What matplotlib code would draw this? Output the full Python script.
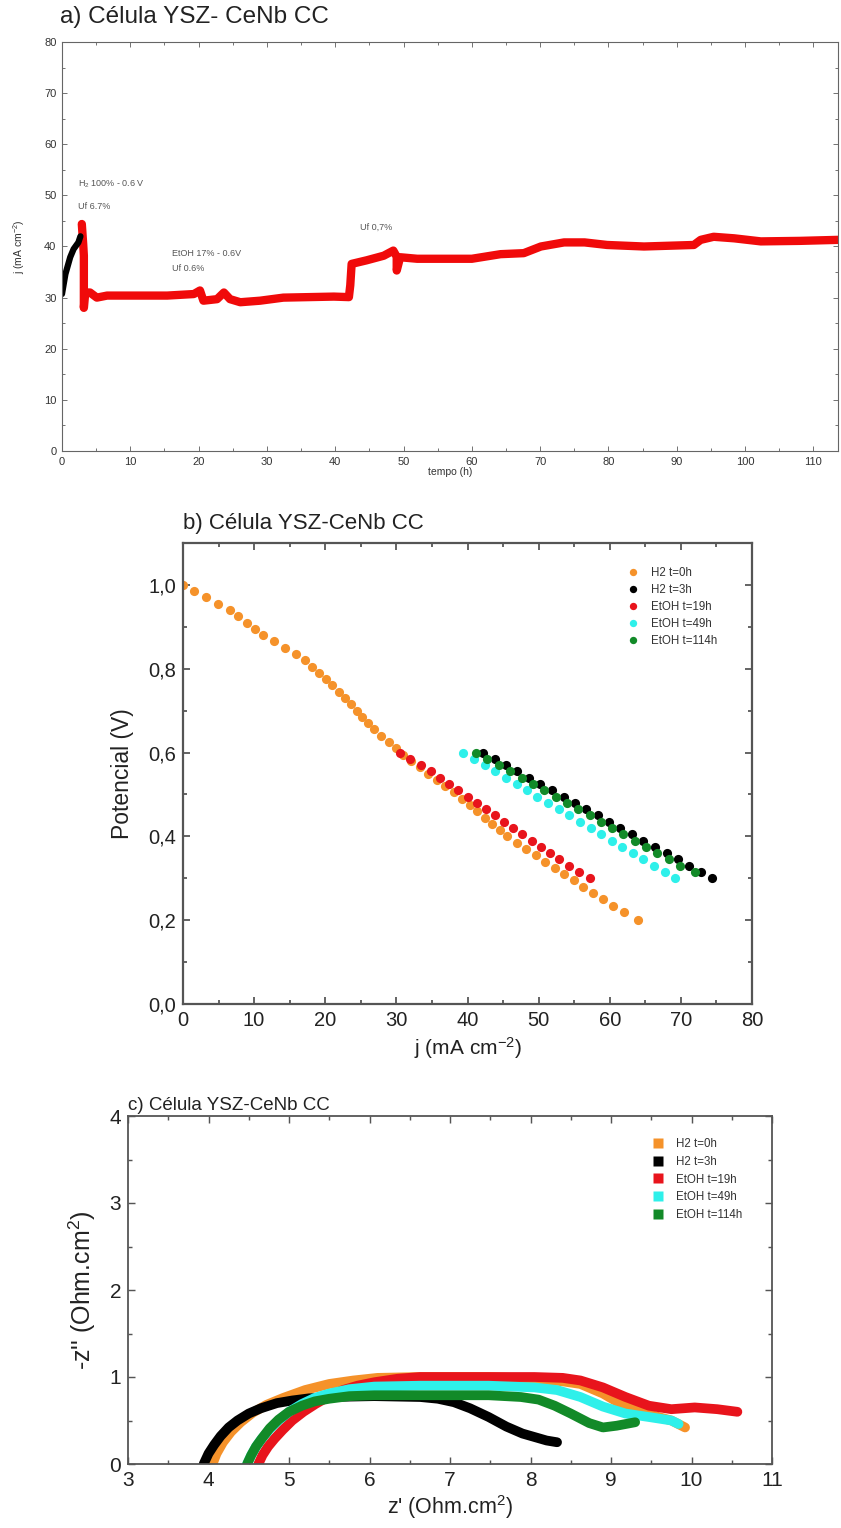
import matplotlib
matplotlib.use("Agg")
import matplotlib.pyplot as plt
from matplotlib.ticker import MultipleLocator, FuncFormatter

plt.rcParams['font.family'] = ['Liberation Sans', 'DejaVu Sans']
plt.rcParams['mathtext.fontset'] = 'custom'
plt.rcParams['mathtext.rm'] = 'Liberation Sans'
plt.rcParams['mathtext.it'] = 'Liberation Sans:italic'

# ---------------- a) chronoamperometry ----------------
t_h2 = [0.0, 0.5, 1.2, 1.7, 2.4, 2.7]
j_h2 = [30.7, 34.6, 37.9, 39.5, 40.8, 42.0]

t_etoh = [2.9, 3.1, 3.2, 3.2, 3.4, 4.1, 5.1, 6.6, 10.5, 15.4, 19.3, 20.2, 20.7, 22.7,
          23.7, 24.6, 26.1, 29.0, 32.4, 39.8, 42.0, 42.2, 42.4, 44.6, 47.1, 48.5,
          49.0, 49.0, 49.5, 52.0, 60.0, 64.2, 67.6, 70.1, 73.5, 76.5, 79.8, 85.2,
          92.5, 93.5, 95.4, 98.4, 102.3, 108.0, 113.6]
j_etoh = [44.4, 40.5, 38.2, 28.0, 31.0, 31.0, 30.0, 30.4, 30.4, 30.4, 30.7, 31.4, 29.4,
          29.7, 31.0, 29.7, 29.1, 29.4, 30.0, 30.2, 30.1, 32.4, 36.6, 37.3, 38.2,
          39.2, 38.0, 35.3, 37.9, 37.6, 37.6, 38.5, 38.7, 40.0, 40.8, 40.8, 40.3,
          40.0, 40.3, 41.3, 41.9, 41.6, 41.0, 41.1, 41.3]

# ---------------- b) polarization curves ----------------
v_h2_0 = [1.000, 0.985, 0.970, 0.955, 0.940, 0.925, 0.910, 0.895, 0.880, 0.865,
          0.850, 0.835, 0.820, 0.805, 0.790, 0.775, 0.760, 0.745, 0.730, 0.715,
          0.700, 0.685, 0.670, 0.655, 0.640, 0.625, 0.610, 0.595, 0.580, 0.565,
          0.550, 0.535, 0.520, 0.505, 0.490, 0.475, 0.460, 0.445, 0.430, 0.415,
          0.400, 0.385, 0.370, 0.355, 0.340, 0.325, 0.310, 0.295, 0.280, 0.265,
          0.250, 0.235, 0.220, 0.200]
j_h2_0 = [0.0, 1.6, 3.3, 4.9, 6.6, 7.8, 9.0, 10.1, 11.3, 12.8,
          14.4, 15.9, 17.2, 18.2, 19.1, 20.1, 21.0, 22.0, 22.8, 23.6,
          24.4, 25.2, 26.0, 26.9, 27.9, 28.9, 29.9, 30.9, 32.1, 33.3,
          34.5, 35.7, 36.9, 38.1, 39.2, 40.3, 41.3, 42.4, 43.4, 44.5,
          45.5, 46.9, 48.2, 49.6, 50.9, 52.3, 53.6, 55.0, 56.3, 57.6,
          59.0, 60.5, 62.0, 64.0]

v_sweep = [0.600, 0.585, 0.570, 0.555, 0.540, 0.525, 0.510, 0.495, 0.480, 0.465,
           0.450, 0.435, 0.420, 0.405, 0.390, 0.375, 0.360, 0.345, 0.330, 0.315,
           0.300]
j_h2_3 = [42.2, 43.8, 45.4, 47.0, 48.6, 50.2, 51.9, 53.5, 55.1, 56.7,
          58.3, 59.9, 61.5, 63.1, 64.7, 66.3, 68.0, 69.6, 71.2, 72.8, 74.4]
j_etoh_19 = [30.5, 31.9, 33.4, 34.8, 36.1, 37.4, 38.7, 40.0, 41.3, 42.6,
             43.9, 45.2, 46.4, 47.7, 49.0, 50.3, 51.6, 52.9, 54.3, 55.7, 57.2]
j_etoh_49 = [39.4, 40.9, 42.4, 43.9, 45.4, 46.9, 48.3, 49.8, 51.3, 52.8,
             54.3, 55.8, 57.3, 58.8, 60.3, 61.7, 63.2, 64.7, 66.2, 67.7, 69.2]
j_etoh_114 = [41.2, 42.8, 44.4, 46.0, 47.6, 49.2, 50.8, 52.4, 54.0, 55.6,
              57.2, 58.7, 60.3, 61.9, 63.5, 65.1, 66.7, 68.3, 69.9, 72.0]

# ---------------- c) impedance spectra ----------------
zr_h2_0 = [4.05, 4.10, 4.18, 4.28, 4.40, 4.55, 4.72, 4.93, 5.20, 5.50, 5.80, 6.10,
           6.63, 7.48, 8.05, 8.40, 8.62, 8.90, 9.18, 9.47, 9.75, 9.92]
zi_h2_0 = [0.00, 0.12, 0.25, 0.37, 0.48, 0.59, 0.68, 0.76, 0.85, 0.92, 0.96, 0.99,
           1.00, 1.00, 0.98, 0.95, 0.92, 0.81, 0.66, 0.57, 0.50, 0.42]
zr_h2_3 = [3.94, 4.00, 4.07, 4.15, 4.25, 4.36, 4.50, 4.65, 4.85, 5.04, 5.25, 5.50,
           6.06, 6.63, 6.85, 7.05, 7.25, 7.48, 7.70, 7.90, 8.05, 8.20, 8.33]
zi_h2_3 = [0.00, 0.12, 0.22, 0.32, 0.42, 0.50, 0.58, 0.64, 0.70, 0.73, 0.755, 0.77,
           0.78, 0.77, 0.75, 0.71, 0.64, 0.54, 0.43, 0.35, 0.31, 0.27, 0.25]
zr_etoh_19 = [4.62, 4.67, 4.74, 4.82, 4.92, 5.04, 5.18, 5.33, 5.50, 5.67, 5.85, 6.06,
              6.35, 6.63, 8.05, 8.40, 8.62, 8.90, 9.18, 9.47, 9.75, 10.04, 10.32, 10.57]
zi_etoh_19 = [0.00, 0.10, 0.20, 0.29, 0.39, 0.50, 0.60, 0.69, 0.78, 0.85, 0.90, 0.94,
              0.98, 1.00, 1.00, 0.99, 0.96, 0.88, 0.77, 0.67, 0.63, 0.65, 0.63, 0.60]
zr_etoh_49 = [4.48, 4.53, 4.59, 4.66, 4.76, 4.87, 5.00, 5.16, 5.32, 5.50, 5.75, 6.06,
              6.63, 7.48, 8.05, 8.33, 8.62, 8.90, 9.18, 9.47, 9.75, 9.84]
zi_etoh_49 = [0.00, 0.10, 0.20, 0.29, 0.40, 0.50, 0.60, 0.69, 0.76, 0.81, 0.86, 0.89,
              0.90, 0.90, 0.88, 0.85, 0.77, 0.66, 0.58, 0.54, 0.50, 0.46]
zr_etoh_114 = [4.48, 4.53, 4.59, 4.66, 4.76, 4.87, 5.00, 5.16, 5.32, 5.50, 5.75, 6.06,
               7.48, 7.88, 8.10, 8.30, 8.50, 8.73, 8.90, 9.07, 9.30]
zi_etoh_114 = [0.00, 0.10, 0.20, 0.29, 0.41, 0.51, 0.60, 0.67, 0.72, 0.75, 0.78, 0.79,
               0.79, 0.77, 0.74, 0.67, 0.58, 0.47, 0.42, 0.44, 0.48]

labels = ["H2 t=0h", "H2 t=3h", "EtOH t=19h", "EtOH t=49h", "EtOH t=114h"]
colors = ["#F5922A", "#000000", "#E8141C", "#2EF0EA", "#128A28"]

W, H = 841, 1528
fig = plt.figure(figsize=(W / 100, H / 100), dpi=100)


def box(l, t, r, b):
    return [l / W, 1 - b / H, (r - l) / W, (b - t) / H]


def style_axes(ax, spine_color, spine_w, tick_len):
    for s in ax.spines.values():
        s.set_color(spine_color)
        s.set_linewidth(spine_w)
    ax.tick_params(which='both', direction='in', top=True, right=True,
                   color=spine_color, width=spine_w * 0.8)
    ax.tick_params(which='major', length=tick_len)
    ax.tick_params(which='minor', length=tick_len * 0.55)


comma = FuncFormatter(lambda v, p: f"{v:.1f}".replace('.', ','))

# ---- panel a ----
axa = fig.add_axes(box(62, 42, 838, 451))
axa.plot(t_etoh, j_etoh, color="#F00A0A", lw=6, solid_capstyle='round',
         solid_joinstyle='round')
axa.plot(t_h2, j_h2, color="#000000", lw=4.5, solid_capstyle='round')
axa.set_xlim(0, 113.6)
axa.set_ylim(0, 80)
axa.xaxis.set_major_locator(MultipleLocator(10))
axa.xaxis.set_minor_locator(MultipleLocator(5))
axa.yaxis.set_major_locator(MultipleLocator(10))
axa.yaxis.set_minor_locator(MultipleLocator(5))
style_axes(axa, "#666666", 0.8, 3.5)
axa.tick_params(labelsize=8, labelcolor="#333333", pad=4)
axa.set_xlabel("tempo (h)", fontsize=7.5, color="#333333", labelpad=0)
axa.set_ylabel("j (mA cm$^{-2}$)", fontsize=7.5, color="#333333", labelpad=12)
axa.text(-0.002, 1.035, "a) Célula YSZ- CeNb CC", transform=axa.transAxes,
         fontsize=17.5, color="#222222", ha='left', va='bottom')
note = dict(fontsize=6.5, color="#555555", ha='left', va='center')
axa.text(2.3, 52.2, "H$_2$ 100% - 0.6 V", **note)
axa.text(2.3, 47.8, "Uf 6.7%", **note)
axa.text(16.1, 38.6, "EtOH 17% - 0.6V", **note)
axa.text(16.1, 35.7, "Uf 0.6%", **note)
axa.text(43.6, 43.7, "Uf 0,7%", **note)

# ---- panel b ----
axb = fig.add_axes(box(183, 543, 752, 1004))
series_b = [(j_h2_0, v_h2_0), (j_h2_3, v_sweep), (j_etoh_19, v_sweep),
            (j_etoh_49, v_sweep), (j_etoh_114, v_sweep[:len(j_etoh_114)])]
for (jx, vy), c, lab in zip(series_b, colors, labels):
    axb.plot(jx, vy, 'o', color=c, ms=6.6, mec='none', label=lab)
axb.set_xlim(0, 80)
axb.set_ylim(0, 1.1)
axb.xaxis.set_major_locator(MultipleLocator(10))
axb.xaxis.set_minor_locator(MultipleLocator(5))
axb.yaxis.set_major_locator(MultipleLocator(0.2))
axb.yaxis.set_minor_locator(MultipleLocator(0.1))
axb.yaxis.set_major_formatter(comma)
style_axes(axb, "#555555", 1.6, 5)
axb.tick_params(labelsize=14.5, labelcolor="#222222", pad=5)
axb.set_xlabel("j (mA cm$^{-2}$)", fontsize=15, color="#222222", labelpad=4)
axb.set_ylabel("Potencial (V)", fontsize=16.5, color="#222222", labelpad=10)
axb.text(0.0, 1.02, "b) Célula YSZ-CeNb CC", transform=axb.transAxes,
         fontsize=16, color="#222222", ha='left', va='bottom')
legb = axb.legend(loc='upper left', bbox_to_anchor=(0.77, 0.965), frameon=False,
                  fontsize=8.3, handlelength=0.6, handletextpad=1.3,
                  labelspacing=0.42, markerscale=0.8, borderpad=0.2)
for txt in legb.get_texts():
    txt.set_color("#333333")

# ---- panel c ----
axc = fig.add_axes(box(128, 1116, 772, 1464))
series_c = [(zr_h2_0, zi_h2_0), (zr_h2_3, zi_h2_3), (zr_etoh_19, zi_etoh_19),
            (zr_etoh_49, zi_etoh_49), (zr_etoh_114, zi_etoh_114)]
for (zx, zy), c, lab in zip(series_c, colors, labels):
    axc.plot(zx, zy, '-', color=c, lw=7, solid_capstyle='round',
             solid_joinstyle='round')
    axc.plot([], [], 's', color=c, ms=6.5, mec='none', label=lab)
axc.set_xlim(3, 11)
axc.set_ylim(0, 4)
axc.xaxis.set_major_locator(MultipleLocator(1))
axc.xaxis.set_minor_locator(MultipleLocator(0.5))
axc.yaxis.set_major_locator(MultipleLocator(1))
axc.yaxis.set_minor_locator(MultipleLocator(0.5))
style_axes(axc, "#555555", 1.3, 5)
axc.tick_params(labelsize=15, labelcolor="#222222", pad=5)
axc.set_xlabel("z' (Ohm.cm$^2$)", fontsize=15.5, color="#222222", labelpad=2)
axc.set_ylabel("-z'' (Ohm.cm$^2$)", fontsize=18, color="#222222", labelpad=8)
axc.text(0.0, 1.005, "c) Célula YSZ-CeNb CC", transform=axc.transAxes,
         fontsize=13.5, color="#222222", ha='left', va='bottom')
legc = axc.legend(loc='upper left', bbox_to_anchor=(0.805, 0.96), frameon=False,
                  fontsize=8.3, handlelength=0.6, handletextpad=1.3,
                  labelspacing=0.5, borderpad=0.2)
for txt in legc.get_texts():
    txt.set_color("#333333")

fig.savefig("out.png", dpi=100)
